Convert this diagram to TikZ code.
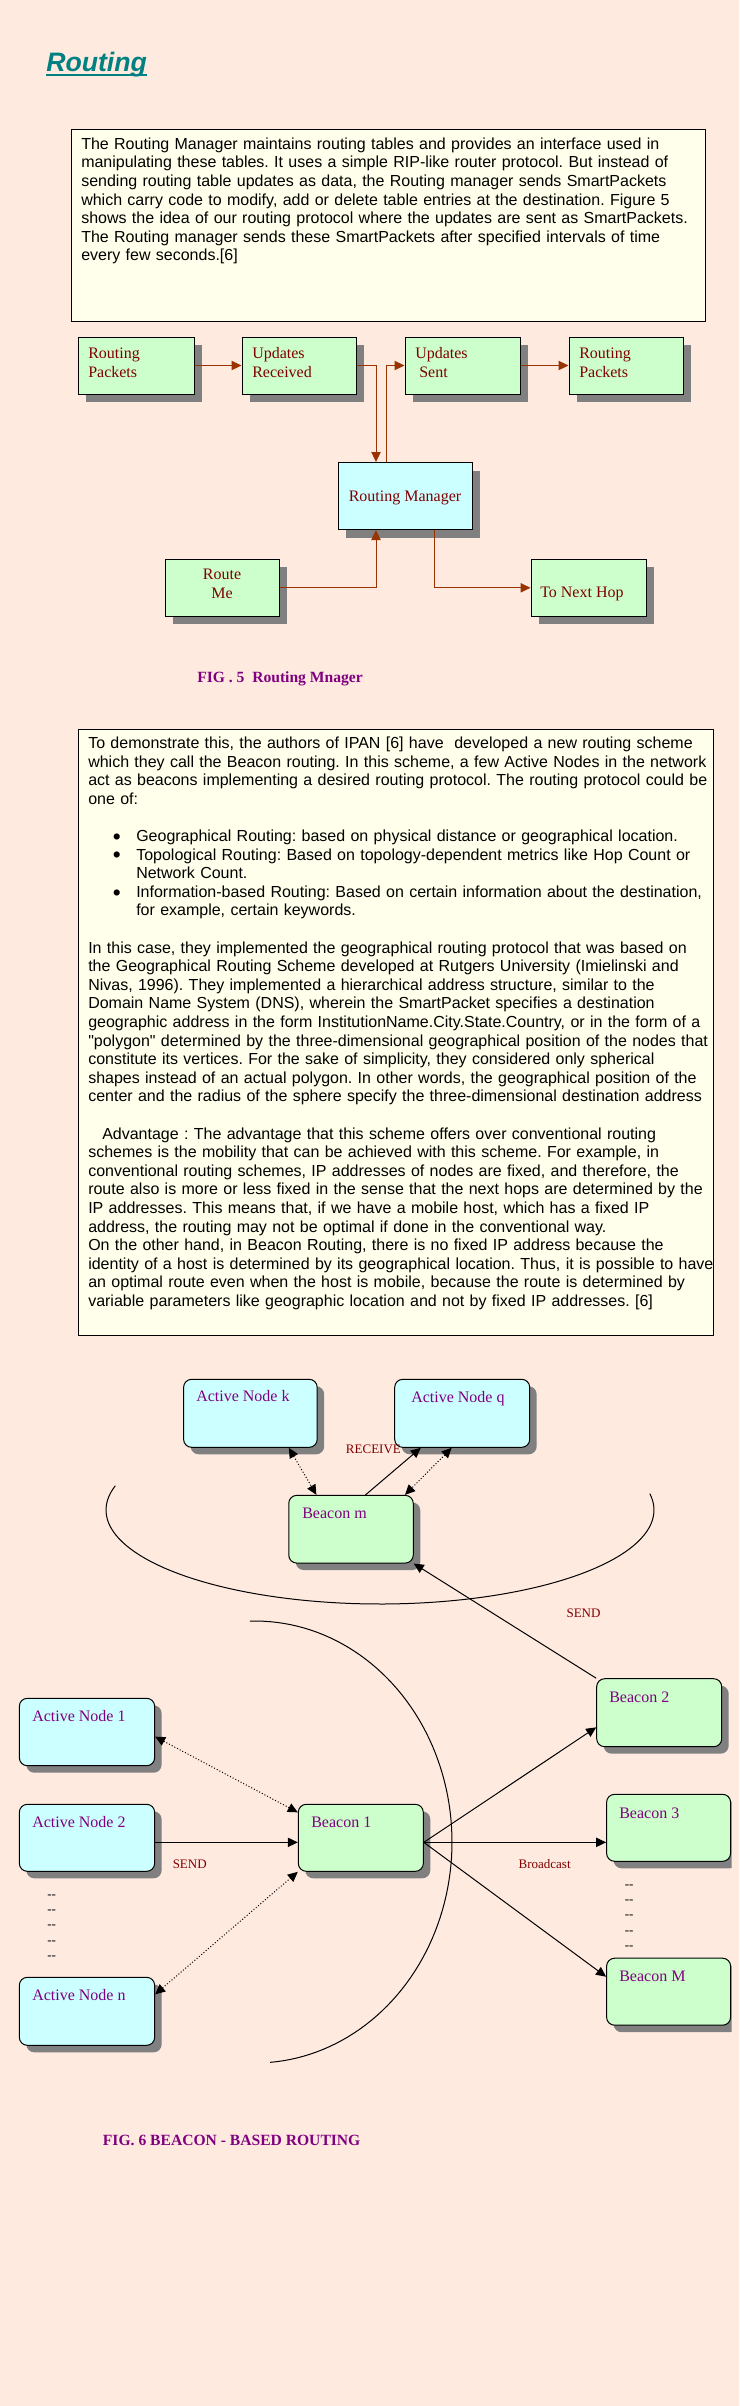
\documentclass[tikz,border=0pt]{standalone}
\usepackage{fontspec}
\setmainfont{Liberation Serif}
\newfontfamily\arialf[Ligatures=TeXOff]{Liberation Sans}
\usetikzlibrary{arrows.meta,shadows}
\definecolor{bgpeach}{RGB}{255,234,224}
\definecolor{boxyel}{RGB}{255,255,235}
\definecolor{ngreen}{RGB}{204,255,204}
\definecolor{ncyan}{RGB}{204,255,255}
\definecolor{dred}{RGB}{128,0,0}
\definecolor{arrred}{RGB}{153,51,0}
\definecolor{purp}{RGB}{128,0,128}
\definecolor{tealc}{RGB}{0,128,128}
\definecolor{shgray}{RGB}{128,128,128}
\newcommand{\fst}{\rule{0pt}{10pt}}
\newcommand{\bul}{\makebox[36pt][l]{\hspace*{18.5pt}\raisebox{-2pt}{\fontsize{17pt}{17pt}\selectfont\char"2022}}}
\begin{document}
\frenchspacing
\begin{tikzpicture}[x=0.75pt,y=-0.75pt,
  >={Triangle[length=7.5pt,width=7pt]},
  sz/.style 2 args={minimum width=#1*0.75pt, minimum height=#2*0.75pt},
  shad/.style={drop shadow={opacity=1,fill=shgray,shadow xshift=#1,shadow yshift=-#1}},
  sqbox/.style={draw=black,line width=0.75pt,inner sep=0,shad=6pt},
  rbox/.style={draw=black,line width=0.75pt,inner sep=0,rounded corners=6pt,shad=5.25pt},
  txtbox/.style={draw=black,line width=0.75pt,fill=boxyel,inner sep=0},
  body/.style={anchor=north west,inner sep=0,align=left,text width=480pt,
    font=\arialf\fontsize{12pt}{13.95pt}\selectfont\frenchspacing},
  lbl5/.style={anchor=north west,inner sep=0,align=left,text=dred,
    font=\fontsize{12pt}{14.25pt}\selectfont},
  lbl6/.style={anchor=base west,inner sep=0,text=purp,font=\fontsize{12pt}{14pt}\selectfont},
  small6/.style={anchor=base west,inner sep=0,text=dred,font=\fontsize{9.75pt}{12pt}\selectfont},
  dotcol/.style={anchor=north west,inner sep=0,align=left,font=\fontsize{9.75pt}{11.44pt}\selectfont},
  figcap/.style={anchor=base west,inner sep=0,text=purp,font=\bfseries\fontsize{11.7pt}{14pt}\selectfont},
  a5/.style={draw=arrred,line width=0.75pt,->},
  a6/.style={draw=black,line width=0.75pt,->},
  d6/.style={draw=black,line width=0.75pt,<->,dash pattern=on 0.75pt off 1.5pt},
  curve/.style={draw=black,line width=0.75pt},
]
\fill[bgpeach] (0,0) rectangle (739,2406);
\useasboundingbox (0,0) rectangle (739,2406);

% ---------- title ----------
\node[anchor=base west,inner sep=0,text=tealc,font=\arialf\bfseries\itshape\fontsize{20pt}{24pt}\selectfont] (title) at (46,71.7) {Routing};
\draw[tealc,line width=1.5pt] ([yshift=-2.5pt]title.base west) -- ([yshift=-2.5pt]title.base east);

% ---------- text box 1 ----------
\node[txtbox,sz={633.4}{192.6}] (tb1) at (388.3,225.3) {};
\node[body] (tb1t) at (81,135.67) {\fst The Routing Manager maintains routing tables and provides an interface used in\\
manipulating these tables. It uses a simple RIP-like router protocol. But instead of\\
sending routing table updates as data, the Routing manager sends SmartPackets\\
which carry code to modify, add or delete table entries at the destination. Figure 5\\
shows the idea of our routing protocol where the updates are sent as SmartPackets.\\
The Routing manager sends these SmartPackets after specified intervals of time\\
every few seconds.[6]};

% ---------- Fig 5 ----------
\node[sqbox,fill=ngreen,sz={116}{57}] (rp1) at (136,365.5) {};
\node[sqbox,fill=ngreen,sz={114}{57}] (ur) at (299,365.5) {};
\node[sqbox,fill=ngreen,sz={115}{57}] (us) at (462.5,365.5) {};
\node[sqbox,fill=ngreen,sz={114}{57}] (rp2) at (626,365.5) {};
\node[sqbox,fill=ncyan,sz={134}{67}] (rm) at (405,496) {};
\node[sqbox,fill=ngreen,sz={114}{57}] (rme) at (222,587.8) {};
\node[sqbox,fill=ngreen,sz={115}{57}] (tnh) at (588.5,587.8) {};

\node[lbl5] (rp1t) at (88,344.4) {\fst Routing\\Packets};
\node[lbl5] (urt) at (252,344.4) {\fst Updates\\Received};
\node[lbl5] (ust) at (415,344.4) {\fst Updates\\\hspace*{3pt}Sent};
\node[lbl5] (rp2t) at (579,344.4) {\fst Routing\\Packets};
\node[anchor=base,inner sep=0,text=dred,font=\fontsize{12pt}{14.25pt}\selectfont] (rmt) at (405,501) {Routing Manager};
\node[lbl5,anchor=north,align=center] (rmet) at (222,565.7) {\fst Route\\Me};
\node[anchor=base west,inner sep=0,text=dred,font=\fontsize{12pt}{14.25pt}\selectfont] (tnht) at (540,597.7) {To Next Hop};

\draw[a5] (rp1.east) -- (ur.west);
\draw[a5] (ur.east) -| ([xshift=-21.75pt]rm.north);
\draw[a5] ([xshift=-13.9pt]rm.north) |- (us.west);
\draw[a5] (us.east) -- (rp2.west);
\draw[a5] (rme.east) -| ([xshift=-21.75pt]rm.south);
\draw[a5] ([xshift=22.1pt]rm.south) |- (tnh.west);

\node[figcap] (cap5) at (197,682.7) {FIG . 5~ Routing Mnager};

% ---------- text box 2 ----------
\node[txtbox,sz={635}{606}] (tb2) at (396.1,1032.3) {};
\node[body] (tb2t) at (88,734.97) {\fst To demonstrate this, the authors of IPAN [6] have~ developed a new routing scheme\\
which they call the Beacon routing. In this scheme, a few Active Nodes in the network\\
act as beacons implementing a desired routing protocol. The routing protocol could be\\
one of:\\
\mbox{}\\
\bul Geographical Routing: based on physical distance or geographical location.\\
\bul Topological Routing: Based on topology-dependent metrics like Hop Count or\\
\hspace*{36pt}Network Count.\\
\bul Information-based Routing: Based on certain information about the destination,\\
\hspace*{36pt}for example, certain keywords.\\
\mbox{}\\
In this case, they implemented the geographical routing protocol that was based on\\
the Geographical Routing Scheme developed at Rutgers University (Imielinski and\\
Nivas, 1996). They implemented a hierarchical address structure, similar to the\\
Domain Name System (DNS), wherein the SmartPacket specifies a destination\\
geographic address in the form InstitutionName.City.State.Country, or in the form of a\\
"polygon" determined by the three-dimensional geographical position of the nodes that\\
constitute its vertices. For the sake of simplicity, they considered only spherical\\
shapes instead of an actual polygon. In other words, the geographical position of the\\
center and the radius of the sphere specify the three-dimensional destination address\\
\mbox{}\\
\hspace*{10.5pt}Advantage : The advantage that this scheme offers over conventional routing\\
schemes is the mobility that can be achieved with this scheme. For example, in\\
conventional routing schemes, IP addresses of nodes are fixed, and therefore, the\\
route also is more or less fixed in the sense that the next hops are determined by the\\
IP addresses. This means that, if we have a mobile host, which has a fixed IP\\
address, the routing may not be optimal if done in the conventional way.\\
On the other hand, in Beacon Routing, there is no fixed IP address because the\\
identity of a host is determined by its geographical location. Thus, it is possible to have\\
an optimal route even when the host is mobile, because the route is determined by\\
variable parameters like geographic location and not by fixed IP addresses. [6]};

% ---------- Fig 6 ----------
\draw[curve] plot[domain=-10:195,samples=90,variable=\t] ({380+274*cos(\t)},{1510+94*sin(\t)});
\draw[curve] plot[domain=-91.5:85.6,samples=90,variable=\t] ({255+197*cos(\t)},{1842+221*sin(\t)});

\node[rbox,fill=ncyan,sz={133.6}{68}] (ank) at (250.4,1413.3) {};
\node[rbox,fill=ncyan,sz={135}{68}] (anq) at (462.2,1413.3) {};
\node[rbox,fill=ngreen,sz={124.5}{67.7}] (bm) at (351,1529.2) {};
\node[rbox,fill=ncyan,sz={135.3}{67.4}] (an1) at (87,1732) {};
\node[rbox,fill=ncyan,sz={135.3}{67}] (an2) at (87,1837.8) {};
\node[rbox,fill=ncyan,sz={135.3}{68}] (ann) at (87,2011.3) {};
\node[rbox,fill=ngreen,sz={125}{67}] (b1) at (360.8,1837.8) {};
\node[rbox,fill=ngreen,sz={125}{68}] (b2) at (659.2,1712.7) {};
\begin{scope}
\clip (0,0) rectangle (731.5,2406);
\node[rbox,fill=ngreen,sz={124}{67}] (b3) at (668.6,1827.8) {};
\node[rbox,fill=ngreen,sz={124}{67}] (bM) at (668.6,1991.7) {};
\end{scope}

\node[lbl6] (ankt) at (196,1401.7) {Active Node k};
\node[lbl6] (anqt) at (411,1402.7) {Active Node q};
\node[lbl6] (bmt) at (302,1518.3) {Beacon m};
\node[lbl6] (an1t) at (32,1721) {Active Node 1};
\node[lbl6] (an2t) at (32,1827.3) {Active Node 2};
\node[lbl6] (annt) at (32,2000) {Active Node n};
\node[lbl6] (b1t) at (311,1827.3) {Beacon 1};
\node[lbl6] (b2t) at (609,1702.3) {Beacon 2};
\node[lbl6] (b3t) at (619,1818.3) {Beacon 3};
\node[lbl6] (bMt) at (619,1981.7) {Beacon M};

\node[small6] (recv) at (345.7,1453.3) {RECEIVE};
\node[small6] (send1) at (566.3,1617.3) {SEND};
\node[small6] (send2) at (172.5,1868.7) {SEND};
\node[small6] (bcast) at (518.4,1868.7) {Broadcast};

\node[dotcol] (dotl) at (47,1887.3) {\rule{0pt}{8pt}-\kern0pt-\\-\kern0pt-\\-\kern0pt-\\-\kern0pt-\\-\kern0pt-};
\node[dotcol] (dotr) at (624.5,1877.3) {\rule{0pt}{8pt}-\kern0pt-\\-\kern0pt-\\-\kern0pt-\\-\kern0pt-\\-\kern0pt-};

\draw[d6] ([xshift=28.8pt]ank.south) -- ([xshift=-25.95pt]bm.north);
\draw[a6] ([xshift=10.9pt]bm.north) -- ([xshift=-31.05pt]anq.south);
\draw[d6] ([xshift=-7.9pt]anq.south) -- ([xshift=40.5pt]bm.north);
\draw[a6] (b2.north west) -- (bm.south east);

\draw[d6] ([yshift=-3.5pt]an1.east) -- ([yshift=19.1pt]b1.west);
\draw[a6] ([yshift=-3.4pt]an2.east) -- ([yshift=-3.4pt]b1.west);
\draw[d6] ([yshift=12.75pt]ann.east) -- (b1.south west);
\coordinate (b1o) at ([yshift=-3.4pt]b1.east);
\draw[a6] (b1o) -- ([yshift=-10.95pt]b2.west);
\draw[a6] (b1o) -- ([yshift=-10.9pt]b3.west);
\draw[a6] (b1o) -- ([yshift=11.25pt]bM.west);

\node[figcap] (cap6) at (102.7,2145) {FIG. 6 BEACON - BASED ROUTING};
\end{tikzpicture}
\end{document}
